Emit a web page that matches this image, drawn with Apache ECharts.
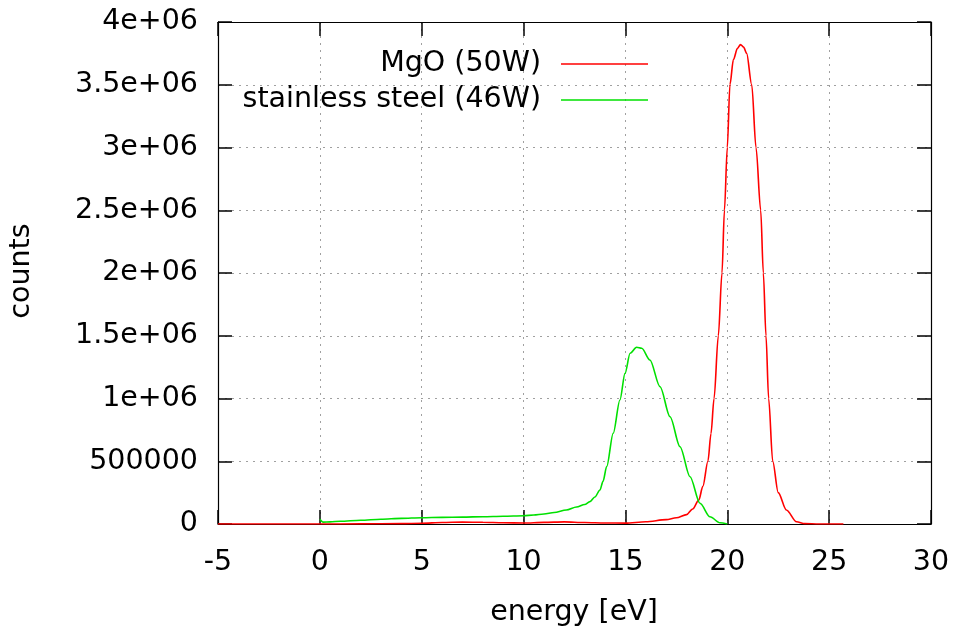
<!DOCTYPE html>
<html>
<head>
<meta charset="utf-8">
<script src="https://cdn.jsdelivr.net/npm/echarts@6/dist/echarts.min.js"></script>
<style>
  html, body { margin: 0; padding: 0; background: #fff; }
  #main { width: 956px; height: 637px; }
</style>
</head>
<body>
<div id="main"></div>
<script>
// MgO (50W)
const mgoEnergy = [-5, 0, 2, 4, 5, 6, 7, 8, 9, 10, 11, 12, 13, 14, 15, 16, 17, 17.5, 18, 18.3, 18.6, 18.8, 19.05, 19.2, 19.35, 19.56, 19.74, 19.86, 20.0, 20.13, 20.3, 20.5, 20.65, 20.8, 20.95, 21.2, 21.41, 21.64, 21.77, 21.9, 22.03, 22.23, 22.5, 22.9, 23.4, 23.8, 24.5, 25.7];
const mgoCounts = [0, 0, 1000, 3000, 6000, 12000, 15000, 14000, 10000, 8000, 13000, 17000, 12000, 8000, 7000, 18000, 35000, 50000, 75000, 120000, 190000, 300000, 500000, 720000, 1000000, 1500000, 2000000, 2500000, 3000000, 3500000, 3700000, 3790000, 3820000, 3800000, 3750000, 3500000, 3000000, 2500000, 2000000, 1500000, 1000000, 500000, 250000, 112000, 18000, 3000, 0, 0];

// stainless steel (46W)
const steelEnergy = [0, 0.15, 0.5, 1, 2, 3, 4, 5, 6, 7, 8, 9, 10, 10.5, 11, 11.5, 12.1, 12.6, 13.0, 13.26, 13.5, 13.75, 13.9, 14.08, 14.4, 14.73, 14.98, 15.23, 15.55, 15.8, 16.2, 16.7, 17.19, 17.68, 18.17, 18.66, 19.15, 19.64, 20.0];
const steelCounts = [37000, 15000, 17000, 22000, 30000, 38000, 45000, 50000, 53000, 55000, 58000, 62000, 66000, 72000, 80000, 92000, 112000, 135000, 155000, 178000, 215000, 271000, 340000, 457000, 723000, 988000, 1200000, 1360000, 1408000, 1400000, 1307000, 1094000, 855000, 616000, 377000, 165000, 58000, 10000, 0];

const seriesNames = ['MgO (50W)', 'stainless steel (46W)'];
const seriesColors = ['#ff0000', '#00e000'];
const yTickLabels = ['0', '500000', '1e+06', '1.5e+06', '2e+06', '2.5e+06', '3e+06', '3.5e+06', '4e+06'];
const xTitle = 'energy [eV]';
const yTitle = 'counts';

const font = 'DejaVu Sans';
const fs = 28.5;
const fontCss = fs + 'px "' + font + '"';

function pairs(xs, ys) {
    return xs.map((x, i) => [x, ys[i]]);
}

function ticks() {
    return { show: true, inside: true, length: 14, lineStyle: { color: '#000', width: 1.5, type: 'solid' } };
}
function axisLine() {
    return { show: true, onZero: false, lineStyle: { color: '#000', width: 1.2, type: 'solid' } };
}
function gridLine() {
    return { show: true, lineStyle: { color: '#a0a0a0', type: [2, 5], width: 1 } };
}

// gnuplot style key and axis titles
let extras = [];
seriesNames.forEach((name, i) => {
    let y = 64 + i * 36;
    extras.push({
        type: 'text', z: 10,
        style: { text: name, x: 541, y: y, align: 'right', verticalAlign: 'middle', font: fontCss, fill: '#000' }
    });
    extras.push({
        type: 'line', z: 10,
        shape: { x1: 561, y1: y, x2: 648, y2: y },
        style: { stroke: seriesColors[i], lineWidth: 1.6 }
    });
});
extras.push({
    type: 'text', x: 574, y: 613,
    style: { text: xTitle, align: 'center', verticalAlign: 'middle', font: fontCss, fill: '#000' }
});
extras.push({
    type: 'text', x: 22, y: 271, rotation: Math.PI / 2,
    style: { text: yTitle, align: 'center', verticalAlign: 'middle', font: fontCss, fill: '#000' }
});

let chart = echarts.init(document.getElementById('main'));
let option = {
    animation: false,
    backgroundColor: '#fff',
    grid: { left: 218, right: 25, top: 22, bottom: 113, containLabel: false },
    graphic: extras,
    xAxis: [
        {
            type: 'value', min: -5, max: 30, interval: 5,
            axisLine: axisLine(), axisTick: ticks(), splitLine: gridLine(),
            axisLabel: { margin: 24, fontFamily: font, fontSize: fs, color: '#000' }
        },
        {
            type: 'value', position: 'top', min: -5, max: 30, interval: 5,
            axisLine: axisLine(), axisTick: ticks(), splitLine: { show: false },
            axisLabel: { show: false }
        }
    ],
    yAxis: [
        {
            type: 'value', min: 0, max: 4000000, interval: 500000,
            axisLine: axisLine(), axisTick: ticks(), splitLine: gridLine(),
            axisLabel: {
                margin: 20, fontFamily: font, fontSize: fs, color: '#000',
                formatter: v => yTickLabels[Math.round(v / 500000)]
            }
        },
        {
            type: 'value', position: 'right', min: 0, max: 4000000, interval: 500000,
            axisLine: axisLine(), axisTick: ticks(), splitLine: { show: false },
            axisLabel: { show: false }
        }
    ],
    series: [
        {
            name: seriesNames[0],
            type: 'line',
            data: pairs(mgoEnergy, mgoCounts),
            symbol: 'none',
            smooth: 0.3,
            smoothMonotone: 'x',
            lineStyle: { color: seriesColors[0], width: 1.6 },
            itemStyle: { color: seriesColors[0] }
        },
        {
            name: seriesNames[1],
            type: 'line',
            data: pairs(steelEnergy, steelCounts),
            symbol: 'none',
            smooth: 0.3,
            smoothMonotone: 'x',
            lineStyle: { color: seriesColors[1], width: 1.6 },
            itemStyle: { color: seriesColors[1] }
        }
    ]
};
chart.setOption(option);
</script>
</body>
</html>
